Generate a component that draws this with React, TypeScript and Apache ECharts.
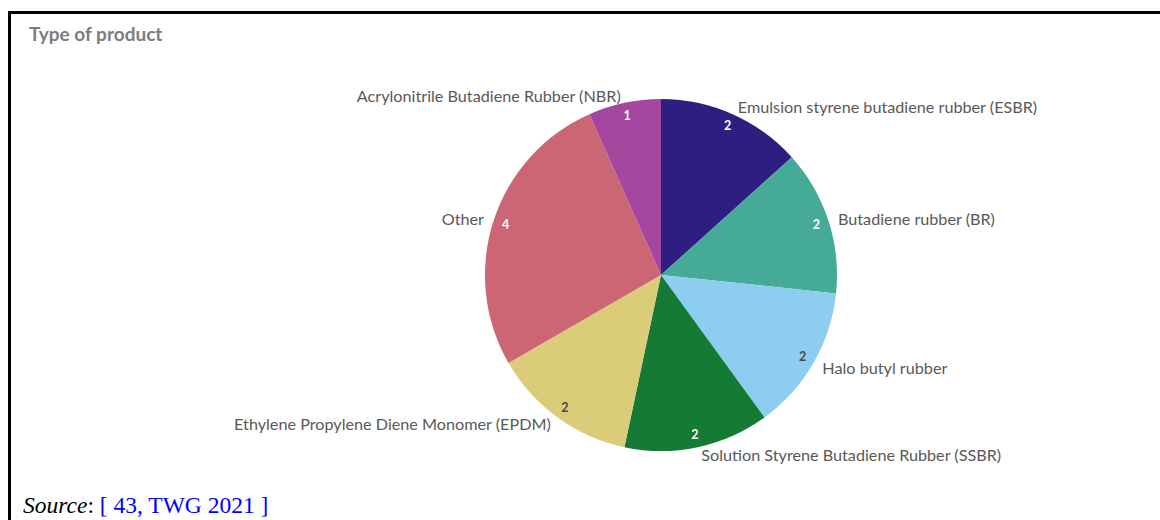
import React, { useEffect, useRef } from "react";
import * as echarts from "echarts";

const categories = [
  "Emulsion styrene butadiene rubber (ESBR)",
  "Butadiene rubber (BR)",
  "Halo butyl rubber",
  "Solution Styrene Butadiene Rubber (SSBR)",
  "Ethylene Propylene Diene Monomer (EPDM)",
  "Other",
  "Acrylonitrile Butadiene Rubber (NBR)",
];
const values = [2, 2, 2, 2, 2, 4, 1];
const sliceColors = ["#2e1e82", "#46aa99", "#8dcdef", "#157a34", "#dbcc79", "#cc6675", "#a5479e"];
const innerLabelColors = ["#ffffff", "#ffffff", "#4a4a4a", "#ffffff", "#4a4a4a", "#ffffff", "#ffffff"];
const titleText = "Type of product";

export default function App() {
  const ref = useRef<HTMLDivElement>(null);
  useEffect(() => {
    if (!ref.current) return;
    const chart = echarts.init(ref.current, null, { renderer: "svg" });
    const font = "Lato, 'Open Sans', sans-serif";
    const serif = "'Liberation Serif', 'Times New Roman', serif";
    chart.setOption({
      animation: false,
      backgroundColor: "#ffffff",
      graphic: [
        { type: "line", shape: { x1: 9, y1: 12.5, x2: 1160, y2: 12.5 }, style: { stroke: "#000", lineWidth: 3 } },
        { type: "line", shape: { x1: 9.5, y1: 11, x2: 9.5, y2: 520 }, style: { stroke: "#000", lineWidth: 3 } },
        {
          type: "text",
          x: 29,
          y: 33,
          style: {
            text: titleText,
            fontFamily: font,
            fontWeight: "bold",
            fontSize: 19,
            fill: "#7d7d7d",
            verticalAlign: "middle",
          },
        },
        {
          type: "text",
          x: 23,
          y: 505,
          style: {
            text: "{i|Source}{n|: }{l|[ 43, TWG 2021 ]}",
            verticalAlign: "middle",
            rich: {
              i: { fontFamily: serif, fontStyle: "italic", fontSize: 23.5, fill: "#000" },
              n: { fontFamily: serif, fontSize: 23.5, fill: "#000" },
              l: { fontFamily: serif, fontSize: 23.5, fill: "#0000ff" },
            },
          },
        },
      ],
      series: [
        {
          type: "pie",
          center: [661, 275],
          radius: 176,
          startAngle: 90,
          clockwise: true,
          avoidLabelOverlap: false,
          silent: true,
          label: {
            show: true,
            position: "outside",
            formatter: "{b}",
            fontFamily: font,
            fontSize: 16.2,
            color: "#595959",
            distanceToLabelLine: 2,
          },
          labelLine: { show: false, length: 8, length2: 0 },
          itemStyle: { borderWidth: 0 },
          data: categories.map((name, i) => ({
            name,
            value: values[i],
            itemStyle: { color: sliceColors[i] },
          })),
        },
        {
          type: "pie",
          center: [661, 275],
          radius: [145, 176],
          startAngle: 90,
          clockwise: true,
          silent: true,
          label: {
            show: true,
            position: "inside",
            formatter: "{c}",
            fontFamily: font,
            fontWeight: "bold",
            fontSize: 12.5,
          },
          labelLine: { show: false },
          itemStyle: { color: "transparent", borderWidth: 0 },
          data: categories.map((name, i) => ({
            name,
            value: values[i],
            label: { color: innerLabelColors[i] },
          })),
        },
      ],
    });
    return () => chart.dispose();
  }, []);
  return (
    <div
      ref={ref}
      style={{ position: "absolute", left: 0, top: 0, width: 1160, height: 520 }}
    />
  );
}
